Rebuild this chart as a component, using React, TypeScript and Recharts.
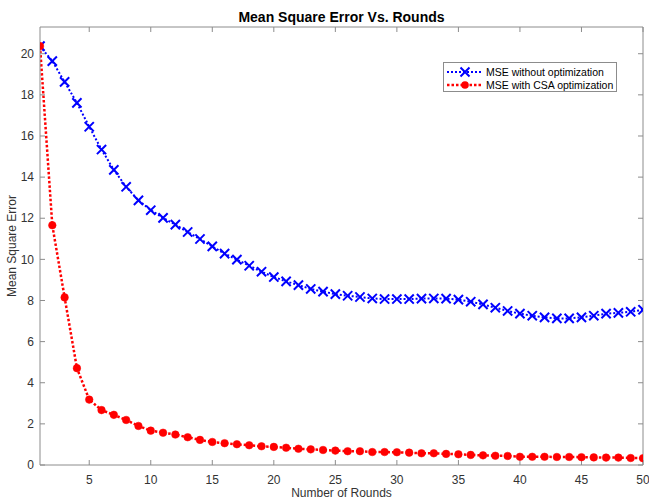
import React from 'react';
import { LineChart, Line, XAxis, YAxis, Legend } from 'recharts';

const rounds = [
  1, 2, 3, 4, 5, 6, 7, 8, 9, 10,
  11, 12, 13, 14, 15, 16, 17, 18, 19, 20,
  21, 22, 23, 24, 25, 26, 27, 28, 29, 30,
  31, 32, 33, 34, 35, 36, 37, 38, 39, 40,
  41, 42, 43, 44, 45, 46, 47, 48, 49, 50,
];

const mseWithout = [
  20.37, 19.64, 18.63, 17.61, 16.45, 15.34, 14.35, 13.53, 12.87, 12.39,
  12.02, 11.69, 11.33, 10.99, 10.63, 10.28, 9.99, 9.69, 9.4, 9.14,
  8.93, 8.75, 8.56, 8.43, 8.31, 8.23, 8.17, 8.1, 8.07, 8.07,
  8.07, 8.09, 8.1, 8.09, 8.04, 7.94, 7.81, 7.65, 7.49, 7.36,
  7.26, 7.18, 7.13, 7.13, 7.18, 7.26, 7.36, 7.4, 7.45, 7.55,
];

const mseCsa = [
  20.37, 11.66, 8.15, 4.71, 3.18, 2.67, 2.44, 2.19, 1.9, 1.67,
  1.57, 1.48, 1.35, 1.22, 1.12, 1.06, 1.01, 0.96, 0.91, 0.88,
  0.84, 0.79, 0.76, 0.73, 0.7, 0.67, 0.67, 0.63, 0.63, 0.62,
  0.6, 0.57, 0.57, 0.54, 0.52, 0.49, 0.47, 0.45, 0.44, 0.4,
  0.4, 0.4, 0.39, 0.39, 0.38, 0.37, 0.36, 0.36, 0.34, 0.33,
];

const xTicks = [5, 10, 15, 20, 25, 30, 35, 40, 45, 50];
const yTicks = [0, 2, 4, 6, 8, 10, 12, 14, 16, 18, 20];

const titleText = 'Mean Square Error Vs. Rounds';
const xLabel = 'Number of Rounds';
const yLabel = 'Mean Square Error';
const seriesNames = ['MSE without optimization', 'MSE with CSA optimization'];

const data = rounds.map((r, i) => ({ round: r, without: mseWithout[i], csa: mseCsa[i] }));

const FONT = '"Liberation Sans", Arial, Helvetica, sans-serif';
const AXIS = '#8c8c8c';
const TXT = '#333333';
const BLUE = '#0000ff';
const RED = '#ff0000';
const X_DOMAIN = [1, 50];
const Y_DOMAIN = [0, 21.3];

const NoTick = (props: any) => <g key={`nt-${props.index}`} />;

const CrossDot = (props: any) => {
  const { cx, cy, index } = props;
  if (cx == null || cy == null) return <g key={`x-${index}`} />;
  const s = 4.6;
  return (
    <path
      key={`x-${index}`}
      d={`M${cx - s},${cy - s}L${cx + s},${cy + s}M${cx - s},${cy + s}L${cx + s},${cy - s}`}
      stroke={BLUE}
      strokeWidth={2}
      fill="none"
    />
  );
};

const CircleDot = (props: any) => {
  const { cx, cy, index } = props;
  if (cx == null || cy == null) return <g key={`c-${index}`} />;
  return <circle key={`c-${index}`} cx={cx} cy={cy} r={3.8} fill={RED} stroke={RED} strokeWidth={0.5} />;
};

const LegendBox = () => (
  <div
    style={{
      border: `1px solid ${AXIS}`,
      background: '#fff',
      width: 174,
      height: 30,
      boxSizing: 'border-box',
      padding: '2px 0 0 2px',
      fontFamily: FONT,
      fontSize: 10.5,
      color: '#000',
    }}
  >
    <div style={{ display: 'flex', alignItems: 'center', height: 13 }}>
      <svg width={38} height={12} style={{ display: 'block', flexShrink: 0 }}>
        <line x1={1} y1={6} x2={37} y2={6} stroke={BLUE} strokeWidth={2} strokeDasharray="2 2" />
        <path d="M14.5,1.5L23.5,10.5M14.5,10.5L23.5,1.5" stroke={BLUE} strokeWidth={2} />
      </svg>
      <span style={{ marginLeft: 2, whiteSpace: 'nowrap' }}>{seriesNames[0]}</span>
    </div>
    <div style={{ display: 'flex', alignItems: 'center', height: 13 }}>
      <svg width={38} height={12} style={{ display: 'block', flexShrink: 0 }}>
        <line x1={1} y1={6} x2={37} y2={6} stroke={RED} strokeWidth={2.5} strokeDasharray="2.5 2" />
        <circle cx={19} cy={6} r={3.8} fill={RED} />
      </svg>
      <span style={{ marginLeft: 2, whiteSpace: 'nowrap' }}>{seriesNames[1]}</span>
    </div>
  </div>
);

export default function App() {
  return (
    <div style={{ position: 'absolute', left: 0, top: 0, width: 649, height: 501, background: '#fff' }}>
      <div
        style={{
          position: 'absolute',
          left: 0,
          width: 683,
          top: 9,
          textAlign: 'center',
          fontFamily: FONT,
          fontWeight: 'bold',
          fontSize: 14,
          color: '#000',
          lineHeight: '17px',
          zIndex: 2,
        }}
      >
        {titleText}
      </div>
      <LineChart
        width={649}
        height={501}
        data={data}
        margin={{ top: 26, right: 5, bottom: 0, left: 0 }}
        style={{ fontFamily: FONT }}
      >
        <XAxis
          dataKey="round"
          type="number"
          domain={X_DOMAIN}
          ticks={xTicks}
          height={36}
          stroke={AXIS}
          tickSize={-5}
          tickMargin={15}
          tick={{ fill: TXT, fontSize: 12, fontFamily: FONT }}
          allowDataOverflow
          label={{ value: xLabel, position: 'insideBottom', offset: 4, fill: TXT, fontSize: 12, fontFamily: FONT }}
        />
        <XAxis
          xAxisId="top"
          dataKey="round"
          orientation="top"
          type="number"
          domain={X_DOMAIN}
          ticks={xTicks}
          height={1}
          stroke={AXIS}
          tickSize={-5}
          tick={NoTick}
          allowDataOverflow
        />
        <YAxis
          type="number"
          domain={Y_DOMAIN}
          ticks={yTicks}
          width={40}
          stroke={AXIS}
          tickSize={-5}
          tickMargin={11}
          tick={{ fill: TXT, fontSize: 12, fontFamily: FONT }}
          allowDataOverflow
          label={{
            value: yLabel,
            angle: -90,
            position: 'insideLeft',
            offset: 12,
            fill: TXT,
            fontSize: 12,
            fontFamily: FONT,
            style: { textAnchor: 'middle' },
          }}
        />
        <YAxis
          yAxisId="right"
          orientation="right"
          type="number"
          domain={Y_DOMAIN}
          ticks={yTicks}
          width={1}
          stroke={AXIS}
          tickSize={-5}
          tick={NoTick}
          allowDataOverflow
        />
        <Legend
          layout="vertical"
          align="center"
          verticalAlign="middle"
          content={() => <LegendBox />}
          wrapperStyle={{ position: 'absolute', left: 443, top: 62, width: 174, height: 30 }}
        />
        <Line
          dataKey="without"
          name={seriesNames[0]}
          stroke={BLUE}
          strokeWidth={2}
          strokeDasharray="2 2"
          dot={CrossDot}
          activeDot={false}
          isAnimationActive={false}
        />
        <Line
          xAxisId="top"
          yAxisId="right"
          dataKey="csa"
          name={seriesNames[1]}
          stroke={RED}
          strokeWidth={2.5}
          strokeDasharray="2.5 2"
          dot={CircleDot}
          activeDot={false}
          isAnimationActive={false}
        />
      </LineChart>
    </div>
  );
}
